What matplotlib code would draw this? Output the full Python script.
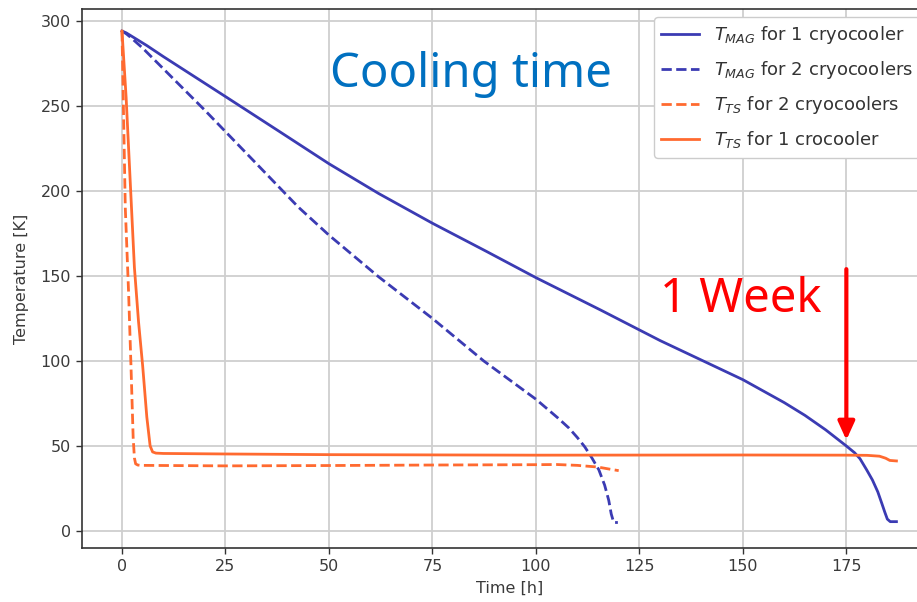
import matplotlib
matplotlib.use("Agg")
import matplotlib.pyplot as plt

# ---- data ----
t_mag1 = [0, 1, 2, 4, 6, 10, 25, 38, 50, 62, 75, 88, 100, 115.6, 130, 140, 150, 160, 165, 170, 175,
          177, 178.3, 179.9, 181.3, 182.6, 183.6, 184.3, 184.9, 185.6, 187.1]
T_mag1 = [294, 293, 291.5, 288.5, 285.5, 279, 255.5, 235, 216, 198.5, 181, 164.5, 149, 130, 112, 100.5, 89, 75.5, 68, 59.5, 50,
          46, 42.5, 36, 30, 23, 16, 11, 7, 5.5, 5.5]

t_mag2 = [0, 1, 2, 5, 20, 42.6, 50, 62, 75, 87.4, 100, 105.3, 108, 110, 111.8, 113.4, 115.2, 116.6, 117.6, 118.2, 118.8, 119.8]
T_mag2 = [294, 292.5, 290.5, 284, 247.5, 190.5, 174, 149.5, 125, 100, 77.5, 66.5, 60.5, 55, 49.5, 43.5, 36, 27, 18, 10, 5, 5]

t_ts2 = [0, 0.8, 1.6, 2.2, 2.7, 3.0, 3.3, 3.8, 4.5, 25, 50, 75, 100, 105, 110, 115, 118, 120]
T_ts2 = [294, 190, 140, 95, 55, 43, 39.5, 38.8, 38.6, 38.3, 38.5, 38.8, 39.0, 39.1, 38.6, 37.6, 36.3, 35.5]

t_ts1 = [0, 1, 2, 3, 4, 5, 6, 6.8, 7.4, 8.2, 10, 25, 50, 100, 150, 175, 180, 183, 184.5, 185.5, 187.1]
T_ts1 = [294, 255, 205, 155, 123, 97, 67, 50, 46.5, 45.8, 45.6, 45.3, 44.9, 44.6, 44.7, 44.6, 44.5, 44, 42.8, 41.5, 41.2]

labels = [r"$T_{MAG}$ for 1 cryocooler", r"$T_{MAG}$ for 2 cryocoolers",
          r"$T_{TS}$ for 2 cryocoolers", r"$T_{TS}$ for 1 crocooler"]

xticks = [0, 25, 50, 75, 100, 125, 150, 175]
yticks = [0, 50, 100, 150, 200, 250, 300]

week_x = 175
arrow_top, arrow_tip = 154, 53.5

blue = "#3b3bb3"
orange = "#ff6a30"

fig = plt.figure(figsize=(9.17, 6.02), dpi=100)
ax = fig.add_axes([82/917, 54/602, 855/917, 539/602])

ax.plot(t_mag1, T_mag1, color=blue, lw=2.0, label=labels[0])
ax.plot(t_mag2, T_mag2, color=blue, lw=2.0, ls=(0, (3.7, 1.6)), label=labels[1])
ax.plot(t_ts2, T_ts2, color=orange, lw=2.0, ls=(0, (3.7, 1.6)), label=labels[2])
ax.plot(t_ts1, T_ts1, color=orange, lw=2.0, label=labels[3])

ax.set_xlim(-9.66, 196.9)
ax.set_ylim(-10, 307)
ax.set_xticks(xticks)
ax.set_yticks(yticks)
ax.tick_params(labelsize=11.5, colors="#333333", length=4.5, width=1.0)
for lab in ax.get_xticklabels() + ax.get_yticklabels():
    lab.set_color("#3a3a3a")
ax.grid(True, color="#cfcfcf", lw=1.3)
for s in ax.spines.values():
    s.set_color("#333333")
    s.set_linewidth(1.2)

ax.set_xlabel("Time [h]", fontsize=11.5, color="#3a3a3a", labelpad=5)
ax.set_ylabel("Temperature [K]", fontsize=11.5, color="#3a3a3a", labelpad=8)

leg = ax.legend(loc="upper right", bbox_to_anchor=(0.9895, 1.0), fontsize=13,
                labelspacing=0.72, handlelength=2.1, borderaxespad=0.45,
                framealpha=1.0, edgecolor="#cccccc", fancybox=True)
for txt in leg.get_texts():
    txt.set_color("#333333")

fig.text(330/917, 1 - 87/602, "Cooling time", fontsize=34, color="#0070c0",
         family="Noto Sans", ha="left", va="baseline")
fig.text(660/917, 1 - 312.5/602, "1 Week", fontsize=34, color="#ff0000",
         family="Noto Sans", ha="left", va="baseline")

ax.annotate("", xy=(week_x, arrow_tip), xytext=(week_x, arrow_top),
            arrowprops=dict(arrowstyle="-|>,head_length=1.1,head_width=0.5",
                            color="#ff0000", lw=3, shrinkA=0, shrinkB=0))

fig.savefig("out.png", dpi=100)
